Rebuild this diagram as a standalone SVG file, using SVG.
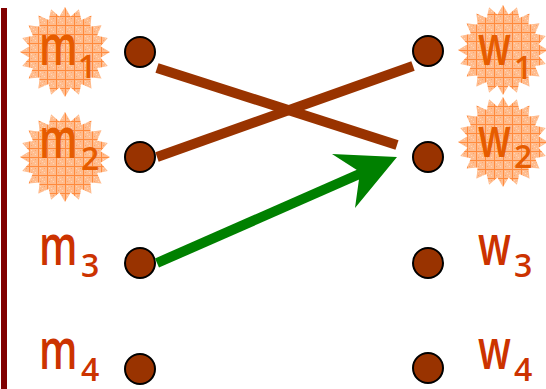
<svg xmlns="http://www.w3.org/2000/svg" width="546" height="389" viewBox="0 0 546 389">
<style>
.dot{fill:#993300;stroke:#000;stroke-width:2}
.lt{font-family:"Open Sans","DejaVu Sans",sans-serif;font-size:56px;font-weight:600}
.sb{font-family:"Open Sans","DejaVu Sans",sans-serif;font-size:32px;font-weight:600}
.plain{fill:#CC3300}
.hot{fill:#E65C00}
.edge{stroke-width:10;fill:none}
</style>
<defs>
<pattern id="grid" width="9" height="9" patternUnits="userSpaceOnUse">
<rect width="9" height="9" fill="#FFBC8E"/>
<rect x="2" y="2" width="1" height="1" fill="#FFD6B8"/>
<rect x="4" y="4" width="1" height="1" fill="#FFD6B8"/>
<rect x="6" y="6" width="1" height="1" fill="#FFD6B8"/>
<rect x="6" y="2" width="1" height="1" fill="#FFA366"/>
<rect x="2" y="6" width="1" height="1" fill="#FFA366"/>
<path d="M0 0.5H9M0.5 0V9" stroke="#FF8A3D" stroke-width="1"/>
</pattern>
<path id="star" d="M0,-45 L5.63,-35.56 L13.91,-42.8 L16.34,-32.08 L26.45,-36.41 L25.46,-25.46 L36.41,-26.45 L32.08,-16.34 L42.8,-13.91 L35.56,-5.63 L45,0 L35.56,5.63 L42.8,13.91 L32.08,16.34 L36.41,26.45 L25.46,25.46 L26.45,36.41 L16.34,32.08 L13.91,42.8 L5.63,35.56 L0,45 L-5.63,35.56 L-13.91,42.8 L-16.34,32.08 L-26.45,36.41 L-25.46,25.46 L-36.41,26.45 L-32.08,16.34 L-42.8,13.91 L-35.56,5.63 L-45,0 L-35.56,-5.63 L-42.8,-13.91 L-32.08,-16.34 L-36.41,-26.45 L-25.46,-25.46 L-26.45,-36.41 L-16.34,-32.08 L-13.91,-42.8 L-5.63,-35.56 Z" fill="url(#grid)"/>
</defs>
<rect x="1" y="8" width="6" height="381" fill="#800000"/>
<g id="m1">
<use href="#star" transform="translate(65,52)"/>
<text class="lt hot" transform="translate(39,65) scale(0.72,1)">m</text>
<text class="sb hot" x="78" y="78">1</text>
<circle class="dot" cx="140" cy="52" r="15"/>
</g>
<g id="m2">
<use href="#star" transform="translate(65,157)"/>
<text class="lt hot" transform="translate(39,158) scale(0.72,1)">m</text>
<text class="sb hot" x="81" y="170">2</text>
<circle class="dot" cx="140" cy="157" r="15"/>
</g>
<g id="m3">
<text class="lt plain" transform="translate(39,265) scale(0.72,1)">m</text>
<text class="sb plain" x="81" y="277">3</text>
<circle class="dot" cx="140" cy="263" r="15"/>
</g>
<g id="m4">
<text class="lt plain" transform="translate(39,369) scale(0.72,1)">m</text>
<text class="sb plain" x="81" y="381">4</text>
<circle class="dot" cx="140" cy="369" r="15"/>
</g>
<g id="w1">
<use href="#star" transform="translate(503,50)"/>
<text class="lt hot" transform="translate(478,65) scale(0.72,1)">w</text>
<text class="sb hot" x="514" y="79">1</text>
<circle class="dot" cx="428" cy="51" r="15"/>
</g>
<g id="w2">
<use href="#star" transform="translate(503,142)"/>
<text class="lt hot" transform="translate(478,157) scale(0.72,1)">w</text>
<text class="sb hot" x="514" y="168">2</text>
<circle class="dot" cx="428" cy="157" r="15"/>
</g>
<g id="w3">
<text class="lt plain" transform="translate(478,265) scale(0.72,1)">w</text>
<text class="sb plain" x="514" y="277">3</text>
<circle class="dot" cx="428" cy="263" r="15"/>
</g>
<g id="w4">
<text class="lt plain" transform="translate(478,369) scale(0.72,1)">w</text>
<text class="sb plain" x="514" y="381">4</text>
<circle class="dot" cx="428" cy="368" r="15"/>
</g>
<g id="connectors">
<line class="edge" x1="157" y1="68" x2="397" y2="145" stroke="#993300"/>
<line class="edge" x1="157" y1="157" x2="413" y2="66" stroke="#993300"/>
<line class="edge" x1="157" y1="263" x2="364" y2="172" stroke="#008000"/>
<polygon points="397,157 332,154 360,172 355,208" fill="#008000"/>
</g>
</svg>
